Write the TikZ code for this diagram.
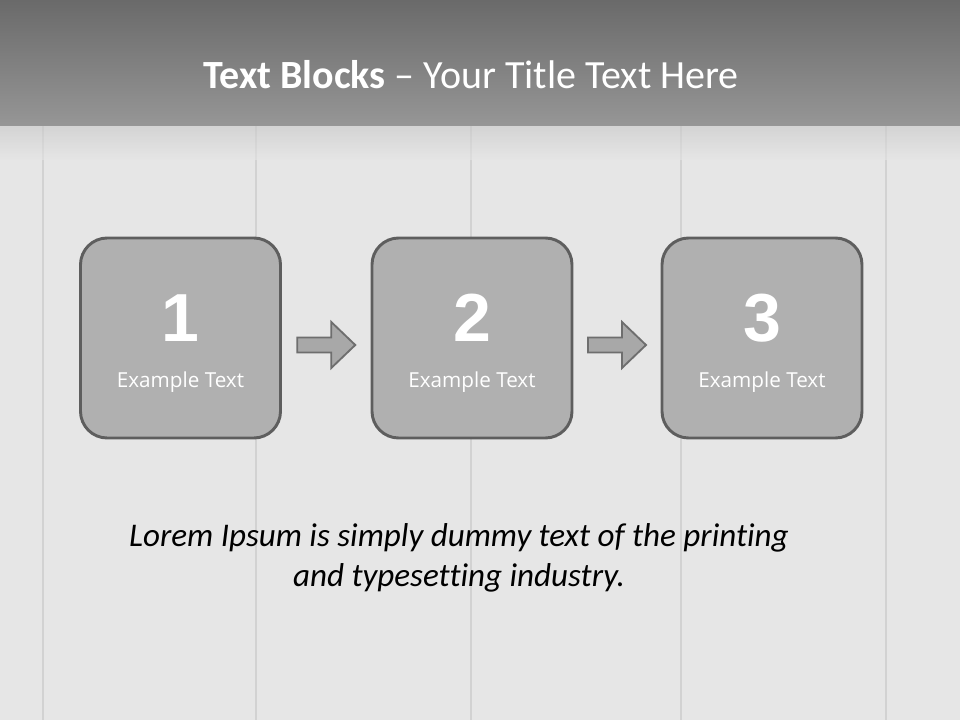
\documentclass[tikz,border=0pt]{standalone}
\usepackage{fontspec}
\setmainfont[Ligatures=NoCommon]{Carlito}
\newfontfamily\boxfont{Open Sans}
\newfontfamily\numfont{Liberation Sans}
\usetikzlibrary{calc}
\definecolor{hdtop}{HTML}{6A6A6A}
\definecolor{hdbot}{HTML}{969696}
\definecolor{woodbg}{HTML}{E6E6E6}
\definecolor{plank}{HTML}{D2D2D2}
\definecolor{boxfill}{HTML}{B0B0B0}
\definecolor{boxline}{HTML}{5E5E5E}
\definecolor{arrfill}{HTML}{A8A8A8}
\definecolor{arrline}{HTML}{6E6E6E}
\tikzset{
  stepbox/.style={draw=boxline, line width=2.2pt, fill=boxfill, rounded corners=20pt,
    minimum width=150pt, minimum height=150pt, inner sep=0pt},
  numtext/.style={text=white, font=\numfont\fontsize{51}{55}\selectfont\bfseries},
  labtext/.style={text=white, font=\boxfont\fontsize{15.5}{18}\selectfont},
  flowarrow/.style={draw=arrline, line width=1.4pt, fill=arrfill, line join=miter},
}
\begin{document}
\begin{tikzpicture}[x=0.75pt,y=-0.75pt]
\useasboundingbox (0,0) rectangle (960,720);
% background
\fill[woodbg] (0,0) rectangle (960,720);
\foreach \px in {42,255,470,680,885}{
  \fill[plank] (\px,125) rectangle ++(2,595);
}
\shade[top color=black!22, bottom color=woodbg, opacity=0.6] (0,125) rectangle (960,160);
\shade[top color=hdtop, bottom color=hdbot] (0,0) rectangle (960,126);
% title
\node[text=white, font=\fontsize{30}{34}\selectfont] (title) at (471,75)
  {\textbf{Text Blocks} -- Your Title Text Here};
% boxes
\node[stepbox] (b1) at (180.5,338) {};
\node[stepbox] (b2) at (472,338) {};
\node[stepbox] (b3) at (762,338) {};
\foreach \b/\n in {b1/1,b2/2,b3/3}{
  \node[numtext] (\b n) at ([yshift=15pt]\b.center) {\n};
  \node[labtext] (\b t) at ([yshift=-33pt]\b.center) {Example Text};
}
% arrows
\foreach \a/\b/\c in {a1/b1/b2, a2/b2/b3}{
  \coordinate (\a) at ($(\b.east)!0.5!(\c.west)+(0,7)$);
  \draw[flowarrow] ([shift={(-29,-7.5)}]\a) -- ([shift={(5,-7.5)}]\a) -- ([shift={(5,-23)}]\a)
     -- ([shift={(29,0)}]\a) -- ([shift={(5,23)}]\a) -- ([shift={(5,7.5)}]\a)
     -- ([shift={(-29,7.5)}]\a) -- cycle;
}
% body text
\node[font=\itshape\fontsize{24.8}{30}\selectfont, align=center, text=black] (lorem) at (459,558)
  {Lorem Ipsum is simply dummy text of the printing\\and typesetting industry.};
\end{tikzpicture}
\end{document}
